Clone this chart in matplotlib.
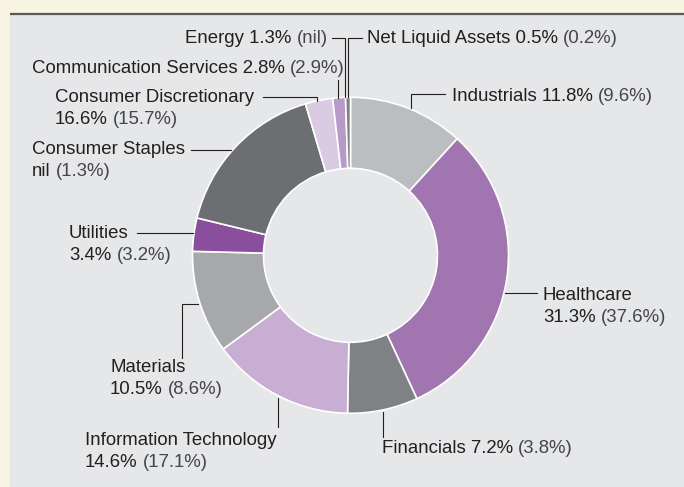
import matplotlib
matplotlib.use("Agg")
import matplotlib.pyplot as plt
from matplotlib.patches import Rectangle

# sector weights, clockwise from the top
sectors = ['Industrials', 'Healthcare', 'Financials', 'Information Technology',
           'Materials', 'Utilities', 'Consumer Staples', 'Consumer Discretionary',
           'Communication Services', 'Energy', 'Net Liquid Assets']
weights = [11.8, 31.3, 7.2, 14.6, 10.5, 3.4, 0.0, 16.6, 2.8, 1.3, 0.5]
weight_text = ['11.8%', '31.3%', '7.2%', '14.6%', '10.5%', '3.4%', 'nil',
               '16.6%', '2.8%', '1.3%', '0.5%']
prior_text = ['(9.6%)', '(37.6%)', '(3.8%)', '(17.1%)', '(8.6%)', '(3.2%)',
              '(1.3%)', '(15.7%)', '(2.9%)', '(nil)', '(0.2%)']
colors = ['#bcbdc0', '#a175b0', '#808184', '#c9aed4', '#a7a8ab', '#8a4f9c',
          '#6d6e71', '#6d6e71', '#dacbe3', '#b89ac8', '#808184']

W, H = 684, 487
def Y(y):
    return H - y

# label layout in picture pixels: x, baseline of first line, align, two lines?
layout = {
    'Industrials': (452, 101, 'left', False),
    'Healthcare': (543, 300, 'left', True),
    'Financials': (382, 453, 'left', False),
    'Information Technology': (85, 445, 'left', True),
    'Materials': (110, 372, 'left', True),
    'Utilities': (69, 238, 'left', True),
    'Consumer Staples': (32, 154, 'left', True),
    'Consumer Discretionary': (55, 102, 'left', True),
    'Communication Services': (32, 73, 'left', False),
    'Energy': (328, 43, 'right', False),
    'Net Liquid Assets': (367, 43, 'left', False),
}
leaders = {
    'Industrials': [(445, 94), (411, 94), (411, 108)],
    'Healthcare': [(505, 293), (537, 293)],
    'Financials': [(383, 412), (383, 437)],
    'Information Technology': [(278, 398), (278, 427)],
    'Materials': [(198, 304), (182, 304), (182, 358)],
    'Utilities': [(137, 233), (193, 233)],
    'Consumer Staples': [(191, 150), (231, 150)],
    'Consumer Discretionary': [(263, 97), (317, 97), (317, 101)],
    'Communication Services': [(338, 80), (338, 98)],
    'Energy': [(332, 38), (345, 38), (345, 97)],
    'Net Liquid Assets': [(362, 38), (348, 38), (348, 97)],
}

dark = '#231f20'
grey = '#464648'
fs = 13.4
font = 'Liberation Sans'

fig = plt.figure(figsize=(W / 100, H / 100), dpi=100, facecolor='#f8f4e2')
ax = fig.add_axes([0, 0, 1, 1])

# panel + top rule
ax.add_patch(Rectangle((10, 0), W - 10, Y(14), facecolor='#e6e7e8', edgecolor='none'))
ax.plot([10, W], [Y(14), Y(14)], color='#58595b', lw=1.6, solid_capstyle='butt')

vals = [w for w in weights if w > 0]
cols = [c for w, c in zip(weights, colors) if w > 0]
ax.pie(vals, colors=cols, startangle=90, counterclock=False,
       center=(350.5, Y(255.3)), radius=158, frame=True,
       wedgeprops=dict(width=158 - 87, edgecolor='white', linewidth=1.2))
ax.set_xlim(0, W)
ax.set_ylim(0, H)
ax.set_aspect('equal')
ax.axis('off')

def label(name, pct, prior):
    x, y, ha, two = layout[name]
    kw = dict(fontsize=fs, family=font)
    if two:
        ax.text(x, Y(y), name, ha='left', va='baseline', color=dark, **kw)
        t = ax.text(x, Y(y + 22), pct, ha='left', va='baseline', color=dark, **kw)
        ax.annotate(prior, xy=(1, 0), xycoords=t, xytext=(3.7, 0),
                    textcoords='offset points', ha='left', va='bottom', color=grey, **kw)
    elif ha == 'left':
        t = ax.text(x, Y(y), name + ' ' + pct, ha='left', va='baseline', color=dark, **kw)
        ax.annotate(prior, xy=(1, 0), xycoords=t, xytext=(3.7, 0),
                    textcoords='offset points', ha='left', va='bottom', color=grey, **kw)
    else:
        t = ax.text(x, Y(y), prior, ha='right', va='baseline', color=grey, **kw)
        ax.annotate(name + ' ' + pct, xy=(0, 0), xycoords=t, xytext=(-3.7, 0),
                    textcoords='offset points', ha='right', va='bottom', color=dark, **kw)

for name, pct, prior in zip(sectors, weight_text, prior_text):
    label(name, pct, prior)
    pts = leaders[name]
    ax.plot([p[0] for p in pts], [Y(p[1]) for p in pts], color=dark, lw=0.8)

fig.savefig('out.png', dpi=100, facecolor=fig.get_facecolor())
